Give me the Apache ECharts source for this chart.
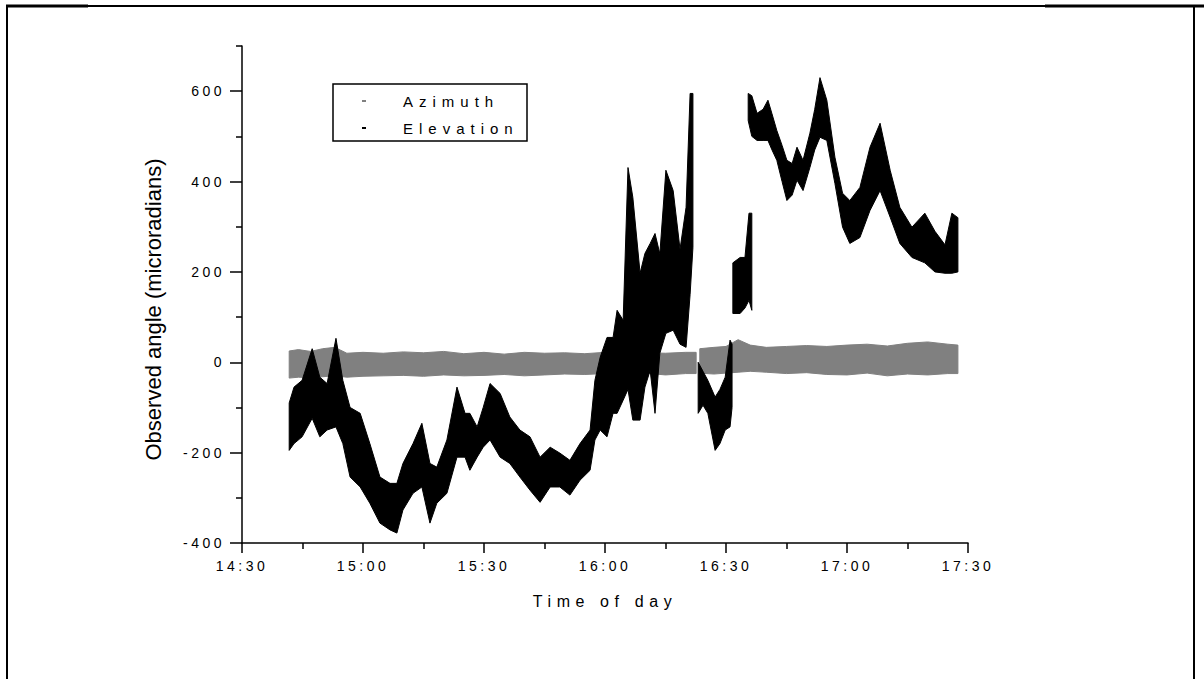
<!DOCTYPE html>
<html><head><meta charset="utf-8">
<script src="https://cdn.jsdelivr.net/npm/echarts@6/dist/echarts.min.js"></script>
<style>
html,body{margin:0;padding:0;background:#fff;}
#chart{width:1204px;height:679px;}
#chart text[style*="14px"]{letter-spacing:3.5px;}
#chart text[style*="16px"]{letter-spacing:5.6px;}
#chart text[style*="15px"]{letter-spacing:6px;}
</style></head>
<body><div id="chart"></div>
<script>
// ---- axis ticks / labels (x in minutes after 14:30) ----
const xTickValues = [0, 30, 60, 90, 120, 150, 180];
const xTickLabels = ['14:30', '15:00', '15:30', '16:00', '16:30', '17:00', '17:30'];
const xMinorTicks = [15, 45, 75, 105, 135, 165];
const yTickValues = [-400, -200, 0, 200, 400, 600];
const yMinorTicks = [-300, -100, 100, 300, 500, 700];
const seriesNames = ['Azimuth', 'Elevation'];

// ---- Azimuth: envelope of the noisy record (null = gap) ----
const azTime = [11.7,14,17,20,23,26,30,35,40,45,50,55,60,65,70,75,80,85,90,95,100,105,110,112.6,null,
  113.5,117,120,123,126,130,135,140,145,150,155,160,165,170,175,177.5];
const azLow = [-35,-33,-34,-32,-30,-33,-31,-30,-29,-31,-28,-30,-29,-27,-30,-28,-26,-27,-25,-27,-24,-28,-25,-25,null,
  -24,-26,-24,-22,-20,-22,-25,-23,-27,-28,-24,-30,-26,-28,-25,-25];
const azHigh = [25,28,24,30,33,20,22,20,23,21,24,19,22,18,22,20,21,19,22,20,21,20,22,22,null,
  30,33,35,50,38,33,35,37,35,38,40,36,42,45,40,38];

// ---- Elevation: envelope of the noisy record (null = gap) ----
const elTime = [11.7,12.9,14.9,17.4,19.3,21.1,23.3,25.0,26.8,29.3,31.7,34.2,36.7,38.4,39.9,42.4,44.6,46.6,48.3,50.8,
  53.3,55.3,56.5,58.3,59.8,61.5,64.0,66.4,68.9,71.4,73.9,76.4,78.8,81.3,83.8,86.3,87.5,88.8,90.5,92.0,
  93.0,94.5,95.7,96.9,98.7,99.9,101.2,102.4,103.6,105.1,106.9,108.6,110.1,111.1,111.8,null,
  113.1,114.3,115.5,117.3,118.5,119.8,121.0,121.5,null,
  121.7,123.5,124.7,125.7,126.4,null,
  125.5,126.4,127.7,129.2,130.4,131.4,132.6,133.9,135.1,136.4,137.6,139.1,140.8,142.0,143.3,
  145.0,147.0,148.9,150.7,153.2,155.7,158.2,160.7,163.1,166.1,169.3,171.8,174.3,176.0,177.5];
const elLow = [-195,-180,-165,-124,-165,-150,-143,-180,-254,-276,-312,-356,-371,-378,-327,-290,-276,-356,-312,-290,
  -210,-210,-239,-210,-188,-172,-210,-224,-254,-283,-310,-276,-276,-294,-261,-239,-172,-150,-165,-113,
  -113,-84,-60,-128,-128,-55,-18,-113,20,64,71,40,33,150,254,null,
  -113,-95,-113,-195,-180,-150,-143,-100,null,
  108,108,120,137,115,null,
  535,500,491,491,491,470,447,400,358,370,403,380,431,470,498,
  491,396,299,263,276,336,380,321,263,232,220,200,197,197,200];
const elHigh = [-90,-55,-40,30,-33,-47,53,-40,-100,-113,-180,-254,-268,-268,-224,-180,-135,-224,-232,-172,
  -55,-113,-113,-143,-100,-47,-69,-121,-150,-165,-210,-188,-201,-217,-180,-150,-40,11,55,55,
  115,93,431,365,197,241,263,285,240,425,380,250,343,595,595,null,
  0,-20,-40,-77,-60,-33,49,40,null,
  220,232,232,330,330,null,
  595,590,551,560,580,550,513,480,447,440,476,447,507,560,630,
  580,454,374,358,387,476,529,425,343,299,330,290,260,330,320];

const FONT = 'Liberation Sans, Arial, sans-serif';

function bandSeries(name, color, time, low, high, z) {
  const rows = [];
  let seg = 0;
  for (let i = 0; i < time.length; i++) {
    if (time[i] === null) { seg++; continue; }
    rows.push([time[i], low[i], high[i], seg]);
  }
  return {
    type: 'custom', name: name, coordinateSystem: 'cartesian2d', z: z, silent: true,
    itemStyle: { color: color },
    encode: { x: 0, y: [1, 2] },
    data: rows,
    renderItem: function (params, api) {
      const i = params.dataIndex;
      const s = rows[i][3];
      if (i > 0 && rows[i - 1][3] === s) return null;
      const top = [], bot = [];
      for (let j = i; j < rows.length && rows[j][3] === s; j++) {
        top.push(api.coord([rows[j][0], rows[j][2]]));
        bot.push(api.coord([rows[j][0], rows[j][1]]));
      }
      return {
        type: 'polygon',
        shape: { points: top.concat(bot.reverse()) },
        style: { fill: color, stroke: color, lineWidth: 1 }
      };
    }
  };
}

const axisLineStyle = { color: '#000', width: 1.5 };

const chart = echarts.init(document.getElementById('chart'), null, { renderer: 'svg' });
chart.setOption({
  animation: false,
  backgroundColor: '#fff',
  color: ['#808080', '#000000'],
  grid: { left: 242, right: 236, top: 46, bottom: 136, containLabel: false, outerBoundsMode: 'none' },
  legend: {
    orient: 'vertical', left: 362, top: 92, padding: 0,
    itemWidth: 4, itemHeight: 2, itemGap: 9, icon: 'rect', selectedMode: false,
    data: seriesNames,
    textStyle: { fontSize: 15, color: '#000', fontFamily: FONT, lineHeight: 18, padding: [0, 0, 0, 32] },
    itemStyle: { borderWidth: 0 }
  },
  xAxis: [{
    type: 'value', min: 0, max: 180,
    axisLine: { show: true, onZero: false, lineStyle: axisLineStyle },
    axisTick: { show: true, length: 10, customValues: xTickValues, lineStyle: axisLineStyle },
    axisLabel: {
      customValues: xTickValues, margin: 16, color: '#000', fontSize: 14, fontFamily: FONT,
      formatter: function (v) { const k = xTickValues.indexOf(v); return k >= 0 ? xTickLabels[k] : ''; }
    },
    splitLine: { show: false },
    name: 'Time of day', nameLocation: 'middle', nameGap: 50,
    nameTextStyle: { fontSize: 16, color: '#000', fontFamily: FONT }
  }, {
    type: 'value', min: 0, max: 180, position: 'bottom',
    axisLine: { show: false, onZero: false },
    axisTick: { show: true, length: 6, customValues: xMinorTicks, lineStyle: axisLineStyle },
    axisLabel: { show: false }, splitLine: { show: false }
  }],
  yAxis: [{
    type: 'value', min: -400, max: 700,
    axisLine: { show: true, onZero: false, lineStyle: axisLineStyle },
    axisTick: { show: true, length: 12, customValues: yTickValues, lineStyle: axisLineStyle },
    axisLabel: { customValues: yTickValues, margin: 17, color: '#000', fontSize: 14, fontFamily: FONT },
    splitLine: { show: false },
    name: 'Observed angle (microradians)', nameLocation: 'middle', nameGap: 78, nameRotate: 90,
    nameTextStyle: { fontSize: 22, color: '#000', fontFamily: FONT, padding: [0, 30, 0, 0] }
  }, {
    type: 'value', min: -400, max: 700, position: 'left',
    axisLine: { show: false, onZero: false },
    axisTick: { show: true, length: 6, customValues: yMinorTicks, lineStyle: axisLineStyle },
    axisLabel: { show: false }, splitLine: { show: false }
  }],
  series: [
    bandSeries(seriesNames[0], '#808080', azTime, azLow, azHigh, 2),
    bandSeries(seriesNames[1], '#000000', elTime, elLow, elHigh, 3)
  ],
  graphic: [
    { type: 'rect', shape: { x: 333, y: 84, width: 194, height: 57 }, style: { fill: 'none', stroke: '#000', lineWidth: 1.5 }, z: 10 },
    { type: 'line', shape: { x1: 6, y1: 6, x2: 1204, y2: 6 }, style: { stroke: '#000', lineWidth: 2 } },
    { type: 'line', shape: { x1: 6, y1: 6, x2: 88, y2: 6 }, style: { stroke: '#000', lineWidth: 3 } },
    { type: 'line', shape: { x1: 1045, y1: 6, x2: 1204, y2: 6 }, style: { stroke: '#000', lineWidth: 3 } },
    { type: 'line', shape: { x1: 7, y1: 6, x2: 7, y2: 679 }, style: { stroke: '#000', lineWidth: 2 } },
    { type: 'line', shape: { x1: 1194, y1: 6, x2: 1194, y2: 679 }, style: { stroke: '#000', lineWidth: 2 } }
  ]
});
</script>
</body></html>
